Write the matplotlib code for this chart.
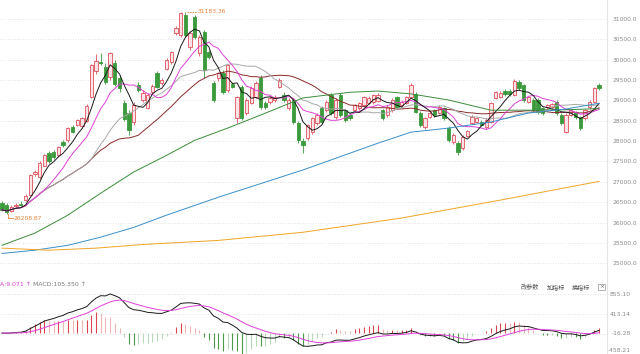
import matplotlib.pyplot as plt
from matplotlib.lines import Line2D
import numpy as np
import pandas as pd

plt.rcParams['font.family'] = ['DejaVu Sans']

# daily OHLC (index points)
opens = [26480, 26420, 26280, 26400, 26460, 26560, 26670, 27190, 27120, 27400,
         27700, 27730, 27650, 27980, 28020, 28340, 28400, 28360, 28500, 29080,
         29720, 29950, 29820, 29570, 29920, 29550, 28930, 28690, 28470, 29380,
         29000, 28810, 29200, 29670, 29420, 29770, 29940, 30650, 30600, 31100,
         30310, 31050, 30160, 30680, 30190, 29420, 29550, 29670, 29250, 29400,
         28560, 29330, 28690, 28930, 29080, 29550, 28930, 28960, 29010, 29330,
         29130, 28810, 29000, 28440, 28000, 28070, 28220, 28440, 28810, 28760,
         29130, 28590, 29130, 28760, 28640, 28760, 28810, 28880, 28930, 28960,
         28990, 28760, 28640, 28760, 29080, 28880, 28930, 29080, 29150, 28690,
         28340, 28590, 28760, 28690, 28810, 28320, 27980, 27950, 27830, 28120,
         28440, 28470, 28470, 28340, 28470, 29060, 29080, 29230, 29230, 29130,
         29450, 29370, 28960, 29010, 29010, 28810, 28830, 28830, 28960, 28640,
         28220, 28640, 28690, 28590, 28560, 28840, 28960, 29380]
highs = [26530, 26470, 26420, 26480, 26520, 26700, 27200, 27280, 27500, 27690,
         27760, 27780, 27880, 28020, 28350, 28400, 28540, 28600, 28900, 29900,
         30150, 30170, 29920, 30200, 30000, 29620, 29000, 28760, 28950, 29450,
         29250, 29180, 29400, 29720, 29540, 30030, 30220, 30820, 31160, 31183.36,
         30700, 31100, 30600, 30720, 30250, 29480, 29700, 29750, 29900, 29450,
         29100, 29380, 29050, 29350, 29480, 29620, 28990, 29100, 29130, 29550,
         29200, 29050, 29060, 28500, 28080, 28420, 28600, 28680, 28860, 29000,
         29180, 29050, 29180, 28800, 28690, 28920, 28960, 29120, 29100, 29160,
         29180, 28800, 28880, 29050, 29120, 29000, 29120, 29420, 29200, 28740,
         28600, 28730, 28800, 28880, 28850, 28360, 28190, 28000, 28140, 28280,
         28630, 28600, 28510, 28560, 28970, 29240, 29220, 29270, 29270, 29520,
         29500, 29410, 29120, 29050, 29050, 28850, 28920, 28940, 29000, 28680,
         28680, 28800, 28730, 28620, 28800, 29000, 29340, 29420]
lows = [26280, 26208.87, 26260, 26350, 26400, 26520, 26640, 27150, 27080, 27380,
        27470, 27560, 27620, 27860, 27990, 28200, 28380, 28330, 28470, 29050,
        29650, 29860, 29400, 29500, 29350, 29200, 28500, 28150, 28400, 29200,
        28950, 28780, 29150, 29300, 29380, 29740, 29900, 30600, 30550, 30550,
        30250, 30500, 30100, 29560, 30020, 28950, 29480, 29150, 29200, 29300,
        28450, 28520, 28650, 28900, 29050, 28780, 28780, 28900, 28960, 29300,
        28950, 28760, 28420, 27960, 27700, 28030, 28180, 28400, 28420, 28720,
        28640, 28550, 28600, 28470, 28520, 28720, 28770, 28850, 28900, 28920,
        28950, 28520, 28600, 28720, 28800, 28850, 28900, 29050, 28680, 28350,
        28300, 28560, 28600, 28660, 28520, 27980, 27940, 27650, 27780, 28090,
        28410, 28440, 28370, 28300, 28440, 29030, 29050, 29120, 29120, 29100,
        29260, 28970, 28930, 28720, 28670, 28650, 28800, 28800, 28650, 28400,
        28190, 28610, 28550, 28280, 28520, 28800, 28930, 29260]
closes = [26310, 26260, 26390, 26440, 26420, 26640, 27160, 27240, 27460, 27650,
          27520, 27600, 27850, 27900, 28320, 28230, 28510, 28560, 28860, 29860,
          29980, 29920, 29450, 30160, 29400, 29300, 28550, 28280, 28890, 29250,
          29180, 29130, 29350, 29330, 29500, 30000, 30190, 30780, 31150, 30610,
          30650, 30560, 30560, 29745, 30065, 29000, 29670, 29200, 29870, 29330,
          29080, 28560, 29000, 29300, 29420, 28830, 28830, 29060, 29080, 29500,
          29000, 29000, 28470, 28020, 27900, 28390, 28560, 28640, 28470, 28960,
          28690, 29010, 28640, 28510, 28560, 28880, 28930, 29080, 29060, 29130,
          29140, 28560, 28840, 29010, 28840, 28960, 29080, 29380, 28710, 28390,
          28560, 28690, 28640, 28840, 28560, 28020, 28150, 27730, 28100, 28240,
          28590, 28560, 28400, 28520, 28930, 29200, 29180, 29150, 29150, 29470,
          29300, 29010, 29080, 28760, 28710, 28690, 28880, 28900, 28690, 28440,
          28640, 28760, 28590, 28320, 28760, 28960, 29300, 29300]

# long moving averages, read at a few candles
ma60_idx = [0, 7, 14, 21, 28, 35, 41, 48, 55, 64, 74, 80, 87, 95, 104, 113, 120, 127]
ma60_val = [25440, 25740, 26180, 26720, 27240, 27650, 28020, 28320, 28640, 29060,
            29200, 29230, 29160, 29010, 28760, 28760, 28770, 28800]
ma120_idx = [0, 7, 14, 21, 28, 35, 46, 64, 80, 87, 95, 104, 112, 120, 127]
ma120_val = [25240, 25320, 25440, 25640, 25880, 26180, 26620, 27290, 27950, 28220,
             28320, 28470, 28690, 28790, 28930]
ma250_idx = [0, 10, 20, 30, 46, 64, 85, 106, 127]
ma250_val = [25370, 25320, 25370, 25460, 25560, 25760, 26110, 26550, 27010]

price_ticks = [31000, 30500, 30000, 29500, 29000, 28500, 28000,
               27500, 27000, 26500, 26000, 25500, 25000]
macd_ticks = [855.10, 413.14, -16.28]
macd_tick_labels = ['855.10', '413.14', '-16.28']
macd_bottom_label = '-458.21'
high_label = '31183.36'
low_label = '26208.87'

W, H = 640, 354
UP, DOWN = '#e0505c', '#3b9a3b'
ORANGE = '#e8833a'

fig = plt.figure(figsize=(6.4, 3.54), dpi=100)
fig.patch.set_facecolor('white')

ax = fig.add_axes([0, 1 - 272 / H, 607 / W, 272 / H])
ax.set_xlim(-0.43, 128.7)
ax.set_ylim(24784, 31467)
for s in ax.spines.values():
    s.set_visible(False)
ax.set_xticks([])
ax.yaxis.tick_right()
ax.set_yticks(price_ticks)
ax.set_yticklabels([f'{v:.1f}' for v in price_ticks])
ax.tick_params(axis='y', length=0, pad=4, labelsize=4.3, labelcolor='#8a8a8a')
ax.grid(axis='y', linestyle=(0, (1, 2)), color='#d8d8d8', linewidth=0.6)
ax.set_axisbelow(True)

o = np.array(opens, float)
c = np.array(closes, float)
hi = np.array(highs, float)
lo = np.array(lows, float)
x = np.arange(len(c))
up = c >= o

wick_col = np.where(up, UP, DOWN)
ax.vlines(x, lo, hi, colors=wick_col, linewidth=0.6, zorder=2)
body = np.maximum(np.abs(c - o), 10)
ax.bar(x, body, bottom=np.minimum(o, c), width=0.7,
       color=np.where(up, '#fbe4e7', DOWN), edgecolor=wick_col,
       linewidth=0.6, zorder=2)

# short moving averages from the closes
cs = pd.Series(c)
ax.plot(x, cs.rolling(30, min_periods=1).mean(), color='#8b2a2a', lw=0.7, zorder=3)
ax.plot(x, cs.rolling(20, min_periods=1).mean(), color='#a8a8a8', lw=0.7, zorder=3)
ax.plot(x, cs.rolling(10, min_periods=1).mean(), color='#e040d8', lw=0.7, zorder=3)
ax.plot(x, cs.rolling(5, min_periods=1).mean(), color='#1a1a1a', lw=0.7, zorder=3)
ax.plot(ma60_idx, ma60_val, color='#3a8c3a', lw=0.7, zorder=3)
ax.plot(ma120_idx, ma120_val, color='#3a8fc8', lw=0.7, zorder=3)
ax.plot(ma250_idx, ma250_val, color='#f2a526', lw=0.7, zorder=3)

# max / min marks
imax = int(np.argmax(hi))
ax.plot([imax + 0.3, imax + 2.4], [hi[imax], hi[imax]], color=ORANGE, lw=0.6,
        ls=(0, (2, 1)))
ax.text(imax + 2.5, hi[imax], high_label, color=ORANGE, fontsize=4.3, va='center')
imin = int(np.argmin(lo))
ax.plot([imin + 0.3, imin + 0.3, imin + 1.4], [lo[imin], lo[imin] - 100, lo[imin] - 100],
        color=ORANGE, lw=0.6)
ax.text(imin + 1.5, lo[imin] - 100, low_label, color=ORANGE, fontsize=4.3, va='center')

# MACD panel
axm = fig.add_axes([0, 0, 607 / W, 72 / H])
axm.set_xlim(-0.43, 128.7)
axm.set_ylim(-458.21, 1117.8)
for s in axm.spines.values():
    s.set_visible(False)
axm.set_xticks([])
axm.set_yticks(macd_ticks)
axm.set_yticklabels([])
axm.tick_params(axis='y', length=0)
axm.grid(axis='y', linestyle=(0, (1, 2)), color='#d8d8d8', linewidth=0.6)
axm.set_axisbelow(True)

dif = cs.ewm(span=12, adjust=False).mean() - cs.ewm(span=26, adjust=False).mean()
dea = dif.ewm(span=9, adjust=False).mean()
hist = (2 * (dif - dea)).to_numpy()
grow = np.abs(hist) >= np.abs(np.r_[0, hist[:-1]])
bar_col = np.where(hist >= 0, np.where(grow, '#d9464f', '#f0b3b6'),
                   np.where(grow, '#4a9a4a', '#b7d9b7'))
axm.vlines(x, 0, hist, colors=bar_col, linewidth=0.8)
axm.plot(x, dif, color='#1a1a1a', lw=0.7)
axm.plot(x, dea, color='#e040d8', lw=0.7)

for v, lab in zip(macd_ticks, macd_tick_labels):
    yf = axm.transData.transform((0, v))[1] / fig.bbox.height
    fig.text(631 / W, yf, lab, ha='right', va='center', fontsize=4.3, color='#8a8a8a')
fig.text(631 / W, 1 - 350 / H, macd_bottom_label, ha='right', va='center',
         fontsize=4.3, color='#8a8a8a')

fig.text(0, 1 - 285 / H, 'A:9.071 ↑', fontsize=4.4, color='#d83cd0', va='center')
fig.text(33 / W, 1 - 285 / H, 'MACD:105.350 ↑', fontsize=4.4, color='#777777', va='center')

cjk = ['Noto Sans CJK SC', 'DejaVu Sans']
for xp, t in [(521, '改参数'), (547, '加指标'), (572, '换指标')]:
    fig.text(xp / W, 1 - 287 / H, t, family=cjk, fontsize=4.4, color='#555555', va='center')
fig.text(599 / W, 1 - 287 / H, '×', fontsize=4.4, color='#666666', va='center',
         bbox=dict(boxstyle='square,pad=0.15', fc='white', ec='#999999', lw=0.5))

fig.add_artist(Line2D([607 / W, 607 / W], [0, 1], color='#e4e4e4', lw=0.8))

fig.savefig('out.png', dpi=100)
